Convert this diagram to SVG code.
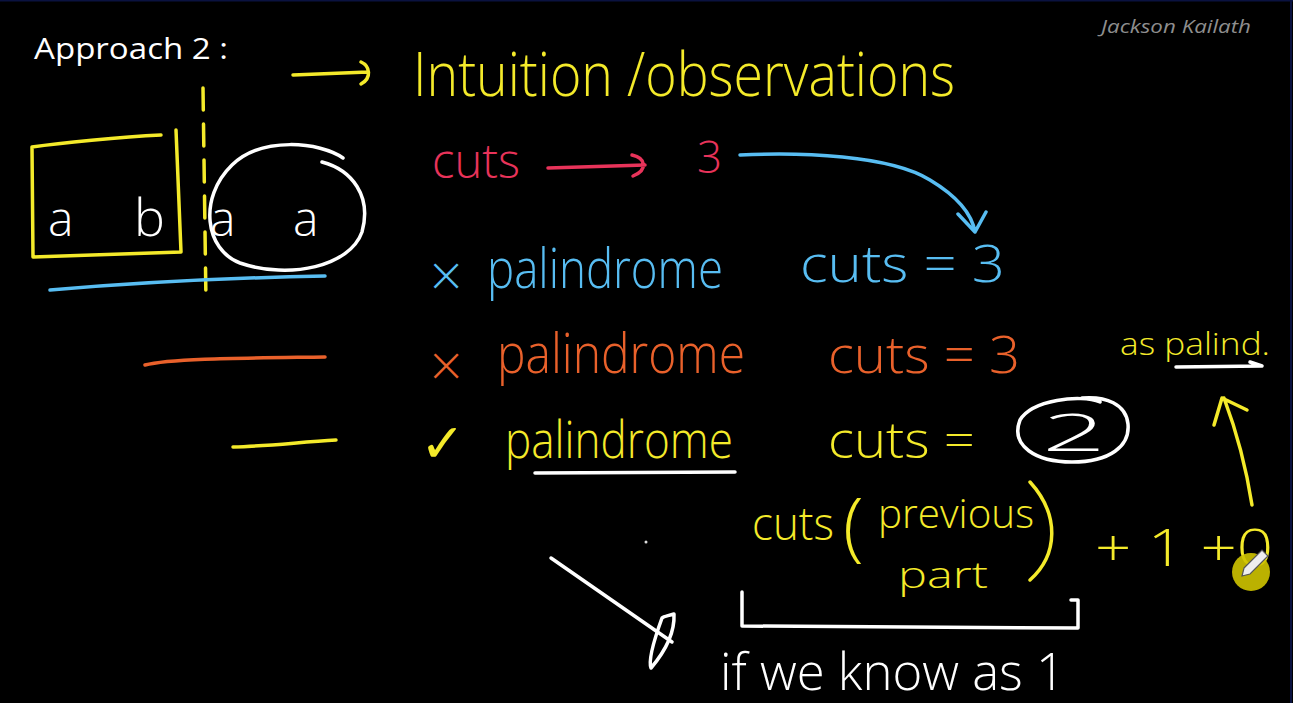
<svg xmlns="http://www.w3.org/2000/svg" width="1293" height="703" viewBox="0 0 1293 703">
<style>
.s{fill:none;stroke-linecap:round;stroke-linejoin:round;stroke-width:3.5}
.hw{font-family:"Open Sans","Liberation Sans",sans-serif;font-weight:300}
.y{fill:#f4ea2a}.ys{stroke:#f4ea2a}
.w{fill:#ffffff}.ws{stroke:#ffffff}
.r{fill:#e8335a}.rs{stroke:#e8335a}
.b{fill:#58bdf2}.bs{stroke:#58bdf2}
.o{fill:#e9612b}.os{stroke:#e9612b}
</style>
<rect x="0" y="0" width="1293" height="703" fill="#000"/>
<line x1="0" y1="0.5" x2="1293" y2="0.5" stroke="#0a1240" stroke-width="2"/>
<line x1="1291" y1="0" x2="1291" y2="703" stroke="#0a1240" stroke-width="2"/>

<g id="title">
<text x="34" y="59" class="w" font-family="Open Sans, Liberation Sans, sans-serif" font-size="30" textLength="194" lengthAdjust="spacingAndGlyphs">Approach 2 :</text>
</g>
<g id="watermark">
<text x="1101" y="33" fill="#8e8e8e" font-family="Open Sans, Liberation Sans, sans-serif" font-style="italic" font-size="19" textLength="150" lengthAdjust="spacingAndGlyphs">Jackson Kailath</text>
</g>

<g id="left-sketch">
<path class="s ys" d="M161,135 C120,137 60,143 32,147 L33,257 L181,252 L176,130"/>
<text x="48" y="236" class="w hw" font-size="48">a</text>
<text x="134" y="236" class="w hw" font-size="52">b</text>
<path class="s ys" d="M203,88 L206,302" stroke-dasharray="22 14"/>
<path class="s ws" stroke-width="2.5" d="M343,158 C320,142 262,136 232,165 C198,198 205,250 240,263 C290,280 350,266 362,232 C372,196 352,170 322,162"/>
<text x="210" y="236" class="w hw" font-size="48">a</text>
<text x="293" y="236" class="w hw" font-size="48">a</text>
<path class="s bs" d="M50,290 C120,284 220,278 325,276"/>
<path class="s os" d="M145,365 C170,358 250,358 325,357"/>
<path class="s ys" d="M233,447 C270,446 300,442 336,440"/>
</g>

<g id="connectors">
<path class="s ys" d="M293,75 L368,72 M361,62 C370,66 372,78 361,84"/>
<path class="s rs" d="M548,168 L645,165 M632,155 C646,158 648,170 633,176"/>
<path class="s bs" d="M740,155 C800,152 890,155 930,180 C960,198 972,215 975,232 M958,214 L975,232 L986,212"/>
<path class="s ys" d="M1252,505 C1245,460 1236,430 1224,398 M1214,425 L1222,398 L1247,410"/>
<path class="s ws" stroke-width="2.5" d="M1176,367 L1262,366 M1250,362 L1262,366"/>
</g>

<g id="heading">
<text x="413" y="96" class="y hw" font-size="60" textLength="542" lengthAdjust="spacingAndGlyphs">Intuition /observations</text>
</g>

<g id="cuts-row">
<text x="432" y="178" class="r hw" font-size="48" textLength="88" lengthAdjust="spacingAndGlyphs">cuts</text>
<text x="697" y="173" class="r hw" font-size="44">3</text>
</g>

<g id="row-blue">
<text x="426" y="291" class="b" font-family="DejaVu Sans, sans-serif" font-weight="300" font-size="48">×</text>
<text x="487" y="288" class="b hw" font-size="56" textLength="236" lengthAdjust="spacingAndGlyphs">palindrome</text>
<text x="800" y="282" class="b hw" font-size="52" textLength="205" lengthAdjust="spacingAndGlyphs">cuts = 3</text>
</g>

<g id="row-orange">
<text x="426" y="381" class="o" font-family="DejaVu Sans, sans-serif" font-weight="300" font-size="48">×</text>
<text x="497" y="373" class="o hw" font-size="56" textLength="248" lengthAdjust="spacingAndGlyphs">palindrome</text>
<text x="828" y="373" class="o hw" font-size="52" textLength="192" lengthAdjust="spacingAndGlyphs">cuts = 3</text>
</g>

<g id="row-yellow">
<text x="420" y="462" class="y" font-family="DejaVu Sans, sans-serif" font-size="54">✓</text>
<text x="505" y="458" class="y hw" font-size="52" textLength="228" lengthAdjust="spacingAndGlyphs">palindrome</text>
<path class="s ws" stroke-width="2.5" d="M535,473 L735,472"/>
<text x="828" y="458" class="y hw" font-size="50" textLength="147" lengthAdjust="spacingAndGlyphs">cuts =</text>
<path class="s ws" d="M1100,402 C1080,394 1032,400 1020,420 C1010,446 1036,462 1072,462 C1110,462 1130,446 1128,424 C1126,404 1106,396 1082,398"/>
<text x="1042" y="451" class="w hw" font-size="52" textLength="64" lengthAdjust="spacingAndGlyphs">2</text>
</g>

<g id="as-palind">
<text x="1120" y="355" class="y hw" font-size="32" textLength="150" lengthAdjust="spacingAndGlyphs">as palind.</text>
</g>

<g id="formula">
<text x="752" y="540" class="y hw" font-size="46" textLength="82" lengthAdjust="spacingAndGlyphs">cuts</text>
<text x="843" y="552" class="y hw" font-size="76">(</text>
<text x="878" y="528" class="y hw" font-size="40" textLength="156" lengthAdjust="spacingAndGlyphs">previous</text>
<text x="898" y="588" class="y hw" font-size="36" textLength="90" lengthAdjust="spacingAndGlyphs">part</text>
<path class="s ys" d="M1030,482 C1060,515 1058,555 1030,580"/>
<text x="1095" y="566" class="y hw" font-size="52" textLength="178" lengthAdjust="spacingAndGlyphs">+ 1 +0</text>
<path class="s ws" d="M742,592 L742,626 L1078,628 L1078,600 L1071,600"/>
<text x="720" y="690" class="w hw" font-size="52" textLength="345" lengthAdjust="spacingAndGlyphs">if we know as 1</text>
</g>

<g id="pointer">
<path class="s ws" stroke-width="2" d="M551,558 L672,642"/>
<path class="s ws" stroke-width="2.5" d="M662,618 C654,640 648,660 651,668 C662,655 675,635 674,614 C668,616 664,616 662,618"/>
<circle cx="646" cy="542" r="1.5" fill="#ddd"/>
<circle cx="1251" cy="572" r="19" fill="#cfc400" opacity="0.9"/>
<path d="M1244,568 L1262,550 L1268,556 L1250,574 L1242,576 Z" fill="#eee" stroke="#555" stroke-width="1.2"/>
</g>
</svg>
